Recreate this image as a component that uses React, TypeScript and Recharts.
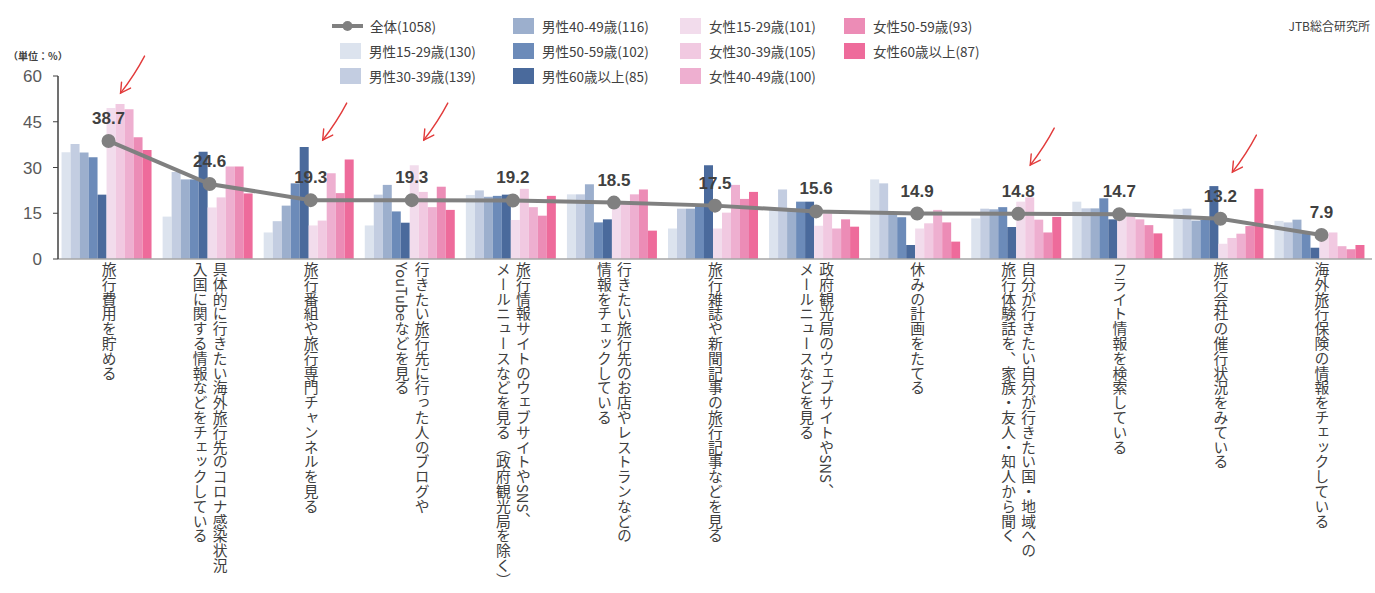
import { Bar, ComposedChart, LabelList, Line, XAxis, YAxis } from "recharts";

const categories = [
  "旅行費用を貯める",
  "具体的に行きたい海外旅行先のコロナ感染状況\n入国に関する情報などをチェックしている",
  "旅行番組や旅行専門チャンネルを見る",
  "行きたい旅行先に行った人のブログや\nYouTubeなどを見る",
  "旅行情報サイトのウェブサイトやSNS、\nメールニュースなどを見る（政府観光局を除く）",
  "行きたい旅行先のお店やレストランなどの\n情報をチェックしている",
  "旅行雑誌や新聞記事の旅行記事などを見る",
  "政府観光局のウェブサイトやSNS、\nメールニュースなどを見る",
  "休みの計画をたてる",
  "自分が行きたい自分が行きたい国・地域への\n旅行体験話を、家族・友人・知人から聞く",
  "フライト情報を検索している",
  "旅行会社の催行状況をみている",
  "海外旅行保険の情報をチェックしている",
];

const total = [38.7, 24.6, 19.3, 19.3, 19.2, 18.5, 17.5, 15.6, 14.9, 14.8, 14.7, 13.2, 7.9];
const male1529 = [35, 13.9, 8.7, 11, 21, 21.2, 10, 16.6, 26.1, 13.3, 18.8, 16.3, 12.5];
const male3039 = [37.7, 28.5, 12.4, 21.1, 22.5, 21.2, 16.5, 22.8, 24.8, 16.5, 16.6, 16.5, 12];
const male4049 = [34.9, 26.1, 17.5, 24.3, 20.4, 24.5, 16.5, 16.6, 15, 16.3, 16.6, 12.6, 12.9];
const male5059 = [33.4, 26.1, 24.8, 15.6, 20.7, 12, 17.2, 18.8, 13.7, 17, 19.9, 12.8, 8.4];
const male60 = [21.1, 35.2, 36.7, 11.9, 21.1, 13, 30.7, 18.8, 4.6, 10.5, 13, 23.9, 3.7];
const female1529 = [49.5, 16.9, 11, 30.7, 12.8, 17.7, 10, 10.9, 10, 18.8, 13.9, 5, 7.5];
const female3039 = [50.8, 20.2, 12.6, 22, 23, 18.8, 15.2, 15, 11.7, 20.2, 13.9, 6.9, 8.7];
const female4049 = [49.1, 30.3, 28.1, 17, 17, 21.2, 24.3, 10, 16.1, 12.9, 13, 8.3, 4.2];
const female5059 = [39.9, 30.3, 21.6, 23.7, 14.2, 22.8, 19.7, 13, 12, 8.7, 11.1, 10.8, 3.2];
const female60 = [35.7, 21.5, 32.6, 16.1, 20.7, 9.3, 22, 10.6, 5.7, 13.8, 8.4, 23, 4.6];

// red hand-drawn arrows: which categories, and the level (in %) the tip points to
const arrowCategories = [0, 2, 3, 9, 11];
const arrowLevels = [54.4, 39, 39, 30.8, 28.5];

const yTicks = [0, 15, 30, 45, 60];

const seriesKeys = ["m1", "m2", "m3", "m4", "m5", "f1", "f2", "f3", "f4", "f5"];
const seriesValues = [male1529, male3039, male4049, male5059, male60, female1529, female3039, female4049, female5059, female60];
const seriesNames = [
  "男性15-29歳(130)",
  "男性30-39歳(139)",
  "男性40-49歳(116)",
  "男性50-59歳(102)",
  "男性60歳以上(85)",
  "女性15-29歳(101)",
  "女性30-39歳(105)",
  "女性40-49歳(100)",
  "女性50-59歳(93)",
  "女性60歳以上(87)",
];
const seriesColors = [
  "#dce3ee",
  "#c3cde1",
  "#9cafcd",
  "#6c8bb9",
  "#4a6a9c",
  "#f2dcec",
  "#f1c9e1",
  "#eeafd0",
  "#ec8cb6",
  "#ee6b9b",
];
const totalName = "全体(1058)";

const data = categories.map((name, i) => {
  const row: Record<string, any> = { name, total: total[i] };
  seriesKeys.forEach((k, s) => (row[k] = seriesValues[s][i]));
  const a = arrowCategories.indexOf(i);
  row.arrow = a >= 0 ? arrowLevels[a] : null;
  return row;
});

const jpFont = "'Noto Sans CJK JP', sans-serif";
const numFont = "'Liberation Sans', Arial, sans-serif";

function CategoryTick(props: any) {
  const { x, y, payload } = props;
  const lines = String(payload.value).split("\n");
  const w = lines.length * 20;
  return (
    <foreignObject x={x - w / 2} y={y} width={w} height={335}>
      <div
        style={{
          writingMode: "vertical-rl",
          fontFamily: jpFont,
          fontSize: 14.8,
          lineHeight: "20px",
          color: "#3f3f3f",
          whiteSpace: "nowrap",
          height: 335,
        }}
      >
        {lines.map((l, i) => (
          <div key={i}>{l}</div>
        ))}
      </div>
    </foreignObject>
  );
}

function ArrowMark(props: any) {
  const { cx, cy, payload, index } = props;
  if (cx == null || cy == null || payload?.arrow == null) return <g key={index} />;
  const tx = cx + 12;
  const ty = cy;
  return (
    <g key={index} stroke="#e23b3b" strokeWidth={1.4} fill="none" strokeLinecap="round">
      <path d={`M${tx + 24},${ty - 37} Q${tx + 14},${ty - 18} ${tx},${ty}`} />
      <path d={`M${tx + 1},${ty - 11} L${tx},${ty} L${tx + 10},${ty - 5}`} />
    </g>
  );
}

const legendCols = [332, 505, 672, 836];
const legendRows = [26, 51, 76];

function LegendBlock() {
  const items = [{ name: totalName, color: "#808080", line: true }].concat(
    seriesNames.map((n, i) => ({ name: n, color: seriesColors[i], line: false }))
  );
  return (
    <>
      {items.map((it, i) => {
        const col = Math.floor(i / 3);
        const row = i % 3;
        return (
          <div
            key={it.name}
            style={{
              position: "absolute",
              left: legendCols[col],
              top: legendRows[row] - 10,
              height: 20,
              display: "flex",
              alignItems: "center",
              fontFamily: jpFont,
              fontSize: 13.5,
              color: "#404040",
              whiteSpace: "nowrap",
            }}
          >
            {it.line ? (
              <svg width={31} height={12} style={{ marginRight: 7 }}>
                <line x1={0} y1={6} x2={31} y2={6} stroke={it.color} strokeWidth={4} />
                <circle cx={15.5} cy={6} r={5} fill={it.color} />
              </svg>
            ) : (
              <span
                style={{
                  display: "inline-block",
                  width: 21,
                  height: 16,
                  background: it.color,
                  marginLeft: 8,
                  marginRight: 8,
                }}
              />
            )}
            <span>{it.name}</span>
          </div>
        );
      })}
    </>
  );
}

export default function App() {
  return (
    <div
      style={{
        position: "absolute",
        left: 0,
        top: 0,
        width: 1375,
        height: 593,
        background: "#fff",
        overflow: "hidden",
      }}
    >
      <ComposedChart
        width={1375}
        height={593}
        data={data}
        margin={{ top: 76, right: 3, left: 8, bottom: 4 }}
        barCategoryGap="3.5%"
        barGap={0}
      >
        <XAxis
          dataKey="name"
          interval={0}
          tick={<CategoryTick />}
          tickLine={false}
          tickSize={0}
          tickMargin={3}
          height={330}
          axisLine={{ stroke: "#a6a6a6", strokeWidth: 1.5 }}
        />
        <YAxis
          domain={[0, 60]}
          ticks={yTicks}
          width={50}
          tickSize={5}
          tickMargin={11}
          axisLine={{ stroke: "#404040", strokeWidth: 1.5 }}
          tickLine={{ stroke: "#404040" }}
          tick={{ fill: "#595959", fontSize: 17, fontFamily: numFont }}
        />
        {seriesKeys.map((k, i) => (
          <Bar key={k} dataKey={k} name={seriesNames[i]} fill={seriesColors[i]} isAnimationActive={false} />
        ))}
        <Line
          dataKey="total"
          name={totalName}
          stroke="#808080"
          strokeWidth={4}
          dot={{ r: 5, fill: "#808080", stroke: "#808080" }}
          activeDot={false}
          isAnimationActive={false}
        >
          <LabelList
            dataKey="total"
            position="top"
            offset={17}
            style={{ fill: "#404040", fontSize: 17, fontWeight: 700, fontFamily: numFont }}
          />
        </Line>
        <Line
          dataKey="arrow"
          stroke="none"
          dot={<ArrowMark />}
          activeDot={false}
          legendType="none"
          isAnimationActive={false}
        />
      </ComposedChart>
      <LegendBlock />
      <div
        style={{
          position: "absolute",
          left: 8,
          top: 48,
          fontFamily: jpFont,
          fontSize: 10,
          fontWeight: 700,
          color: "#404040",
        }}
      >
        （単位：%）
      </div>
      <div
        style={{
          position: "absolute",
          right: 5,
          top: 17,
          fontFamily: jpFont,
          fontSize: 12,
          color: "#404040",
        }}
      >
        JTB総合研究所
      </div>
    </div>
  );
}
